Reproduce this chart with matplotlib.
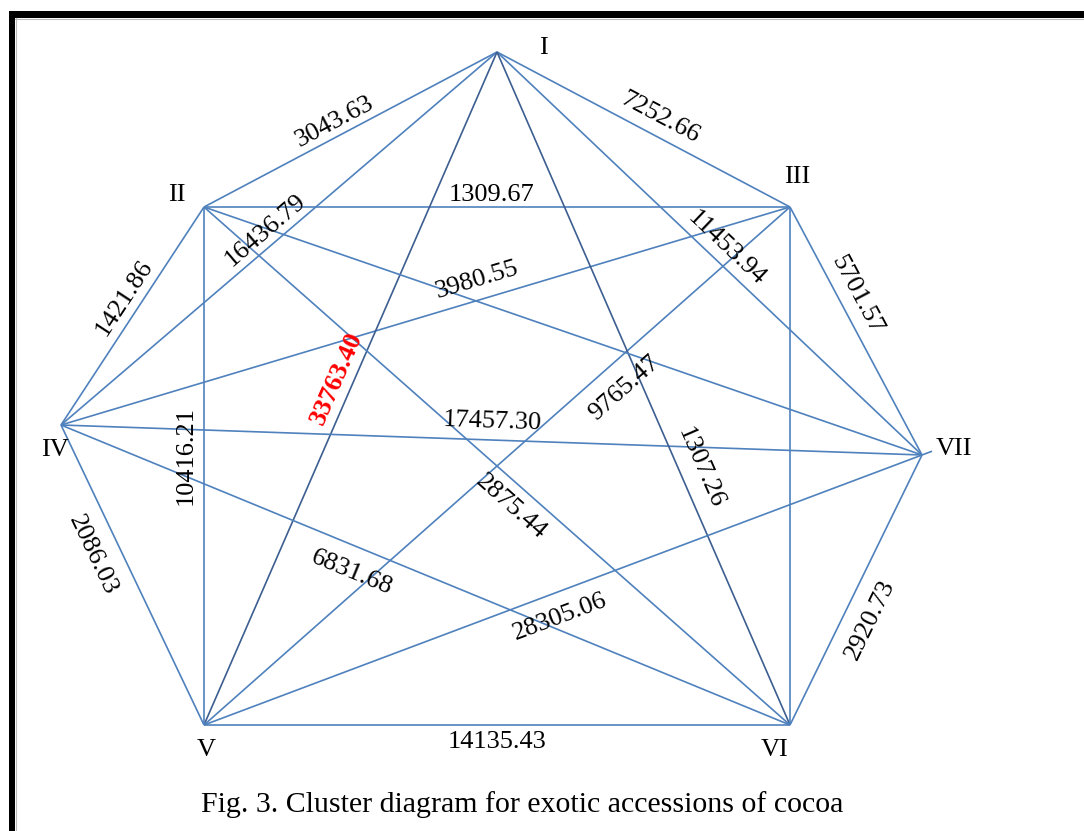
import matplotlib.pyplot as plt
import math

# accessions (cluster nodes) and their layout on the page, in pixels
nodes = ['I', 'II', 'III', 'IV', 'V', 'VI', 'VII']
node_x = [497, 204, 790, 61, 204, 790, 922]
node_y = [52, 207, 207, 425, 725, 725, 455]

# inter-cluster distances (None = drawn without a value)
edge_from = ['I', 'I', 'II', 'I', 'I', 'II', 'III', 'III', 'I', 'III',
             'IV', 'II', 'I', 'II', 'IV', 'IV', 'V', 'VI', 'V', 'II', 'III']
edge_to = ['II', 'III', 'III', 'IV', 'VII', 'IV', 'VII', 'IV', 'V', 'V',
           'VII', 'V', 'VI', 'VI', 'VI', 'V', 'VII', 'VII', 'VI', 'VII', 'VI']
distance = [3043.63, 7252.66, 1309.67, 16436.79, 11453.94, 1421.86, 5701.57,
            3980.55, 33763.40, 9765.47, 17457.30, 10416.21, 1307.26, 2875.44,
            6831.68, 2086.03, 28305.06, 2920.73, 14135.43, None, None]

# label placement: fraction along the edge, offset off the edge (px)
label_t = [0.531, 0.526, 0.49, 0.509, 0.515, 0.46, 0.389, 0.422, 0.495, 0.312,
           0.5, 0.48, 0.63, 0.548, 0.413, 0.395, 0.484, 0.431, 0.5, 0.5, 0.5]
label_off = [14, 18, 12, 15, 15, 17, 18, 20, 17, -26,
             18, 18, 20, -22, -26, -27, -24, -26, -17, 0, 0]

# node name offsets (px)
name_dx = [46, -27, 7, -6, 2, -15, 32]
name_dy = [-4, -12, -30, 25, 25, 25, -6]

highlight = 33763.40
dark_edges = [('I', 'V'), ('I', 'VI')]

W, H = 1084, 831
fig = plt.figure(figsize=(W / 100, H / 100), dpi=100)
ax = fig.add_axes([0, 0, 1, 1])
ax.set_xlim(0, W)
ax.set_ylim(H, 0)
ax.axis('off')

pos = {n: (x, y) for n, x, y in zip(nodes, node_x, node_y)}
serif = 'Liberation Serif'

for a, b, d, t, off in zip(edge_from, edge_to, distance, label_t, label_off):
    xa, ya = pos[a]
    xb, yb = pos[b]
    col = '#3D5E90' if (a, b) in dark_edges else '#4F81BD'
    if (a, b) == ('V', 'VII'):
        # this one runs a little past VII
        xe, ye = xb + (xb - xa) * 0.014, yb + (yb - ya) * 0.014
    else:
        xe, ye = xb, yb
    ax.plot([xa, xe], [ya, ye], color=col, lw=1.2, solid_capstyle='butt', zorder=1)
    if d is None:
        continue
    ang = math.degrees(math.atan2(-(yb - ya), xb - xa))
    if ang <= -90:
        ang += 180
    elif ang > 90:
        ang -= 180
    r = math.radians(ang)
    cx = xa + t * (xb - xa) - off * math.sin(r)
    cy = ya + t * (yb - ya) - off * math.cos(r)
    hot = d == highlight
    ax.text(cx, cy, f'{d:.2f}', rotation=ang, rotation_mode='anchor',
            ha='center', va='center', fontsize=19, family=serif,
            color='red' if hot else 'black',
            fontweight='bold' if hot else 'normal', zorder=3)

for n, dx, dy in zip(nodes, name_dx, name_dy):
    x, y = pos[n]
    ax.text(x + dx, y + dy, n, ha='center', va='center', fontsize=19,
            family=serif, color='black')

ax.text(522, 805, 'Fig. 3. Cluster diagram for exotic accessions of cocoa',
        ha='center', va='center', fontsize=21.5, family=serif, color='black')

# page frame (top and left rules)
ax.fill_between([9, W], 11, 18, color='black', lw=0)
ax.fill_between([9, 15], 11, H, color='black', lw=0)
ax.plot([15, W], [18.6, 18.6], color='#BBBBBB', lw=0.8)
ax.plot([15.6, 15.6], [18, H], color='#BBBBBB', lw=0.8)

fig.savefig('out.png', dpi=100)
